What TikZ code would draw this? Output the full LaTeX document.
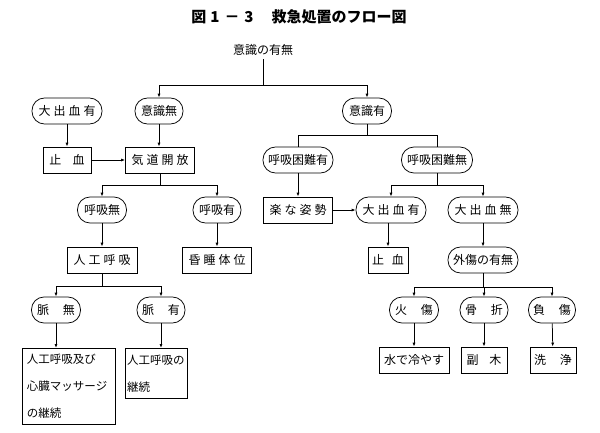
\documentclass[tikz,border=0pt]{standalone}
\usepackage{fontspec}
\usepackage{tikz}
\usetikzlibrary{arrows.meta}
\newfontfamily\jpfont{Noto Sans CJK JP}
\newcommand{\ksp}{\hspace{3pt}}
\newcommand{\wsp}[1][14pt]{\hspace{#1}}

\begin{document}
\begin{tikzpicture}[x=1pt, y=-1pt, line width=0.75pt,
		font=\jpfont\fontsize{12pt}{14pt}\selectfont,
		cond/.style={draw, rounded corners=12.5pt, minimum height=26pt, inner sep=1pt},
		act/.style={draw, minimum height=26pt, inner sep=1pt},
		arr/.style={-{Latex[length=4pt,width=3pt]}}]
		\useasboundingbox (0,0) rectangle (600,432);
		% Title
		\node (title) at (299,17) {\bfseries\fontsize{15pt}{17pt}\selectfont 図\hspace{4pt}1\hspace{5pt}－\hspace{5pt}3\hspace{18pt}救急処置のフロー図};
		% Nodes, row by row
		\node (query) at (263,50) {意識の有無};
		\node[cond, minimum width=70pt] (bleedA) at (67,111) {大\ksp 出\ksp 血\ksp 有};
		\node[cond, minimum width=48pt] (unconsc) at (159,111) {意識無};
		\node[cond, minimum width=49pt] (consc) at (367,111) {意識有};
		\node[act, minimum width=48pt] (stopA) at (67,160) {止\wsp[11.5pt]血};
		\node[act, minimum width=69pt] (airway) at (160,160) {気\ksp 道\ksp 開\ksp 放};
		\node[cond, minimum width=70pt] (dyspY) at (298,160) {呼吸困難有};
		\node[cond, minimum width=71pt] (dyspN) at (437,160) {呼吸困難無};
		\node[cond, minimum width=49pt] (breathN) at (102,210) {呼吸無};
		\node[cond, minimum width=48pt] (breathY) at (217,210) {呼吸有};
		\node[act, minimum width=69pt] (comfort) at (298,210) {楽\ksp な\ksp 姿\ksp 勢};
		\node[cond, minimum width=70pt] (bleedB) at (391,210) {大\ksp 出\ksp 血\ksp 有};
		\node[cond, minimum width=70pt] (nobleed) at (483,210) {大\ksp 出\ksp 血\ksp 無};
		\node[act, minimum width=70pt] (cpr) at (102,260) {人\ksp 工\ksp 呼\ksp 吸};
		\node[act, minimum width=69pt] (coma) at (217,260) {昏\ksp 睡\ksp 体\ksp 位};
		\node[act, minimum width=40pt] (stopB) at (388,260) {止\wsp[8pt]血};
		\node[cond, minimum width=70pt] (injury) at (483,260) {外傷の有無};
		\node[cond, minimum width=49pt] (pulseN) at (56,310) {脈\wsp 無};
		\node[cond, minimum width=48pt] (pulseY) at (161,310) {脈\wsp 有};
		\node[cond, minimum width=49pt] (burn) at (414,310) {火\wsp 傷};
		\node[cond, minimum width=48pt] (fract) at (484,310) {骨\wsp 折};
		\node[cond, minimum width=47pt] (wound) at (552,310) {負\wsp 傷};
		\node[act, minimum width=70pt] (cool) at (414,360) {水で冷やす};
		\node[act, minimum width=46pt] (splint) at (484,360) {副\wsp[11pt]木};
		\node[act, minimum width=46pt] (wash) at (553,360) {洗\wsp 浄};
		\node[act, anchor=north, minimum width=93pt, minimum height=76pt, inner xsep=5pt, text width=83pt, align=left,
			font=\jpfont\fontsize{11.5pt}{27pt}\selectfont] (cprbox) at (68.5,348) {人工呼吸及び\\心臓マッサージ\\の継続};
		\node[act, anchor=north, minimum width=62pt, minimum height=50pt, inner xsep=2pt, text width=58pt, align=left,
			font=\jpfont\fontsize{11.5pt}{27pt}\selectfont] (keepbox) at (156,348) {人工呼吸の\\継続};
		% Connectors
		\coordinate (j0) at (263,85);
		\draw (query) -- (j0);
		\draw[arr] (j0) -| (unconsc.north);
		\draw[arr] (j0) -| (consc.north);
		\draw[arr] (bleedA) -- (stopA);
		\draw[arr] (unconsc.south) -- (unconsc.south |- airway.north);
		\draw[arr] (stopA) -- (airway);
		\coordinate (j1) at (367,135);
		\draw (consc) -- (j1);
		\draw (j1) -| (dyspY.north);
		\draw (j1) -| (dyspN.north);
		\coordinate (j2) at (160,185);
		\draw (airway) -- (j2);
		\draw[arr] (j2) -| (breathN.north);
		\draw[arr] (j2) -| (breathY.north);
		\draw[arr] (dyspY) -- (comfort);
		\draw[arr] (comfort) -- (bleedB);
		\coordinate (j3) at (437,185);
		\draw (dyspN) -- (j3);
		\draw[arr] (j3) -| (bleedB.north);
		\draw[arr] (j3) -| (nobleed.north);
		\draw[arr] (breathN) -- (cpr);
		\draw[arr] (breathY) -- (coma);
		\draw[arr] (bleedB.south -| stopB.north) -- (stopB.north);
		\draw[arr] (nobleed) -- (injury);
		\coordinate (j4) at (102,286);
		\draw (cpr) -- (j4);
		\draw[arr] (j4) -| (pulseN.north);
		\draw[arr] (j4) -| (pulseY.north);
		\coordinate (j5) at (483,287);
		\draw (injury) -- (j5);
		\draw[arr] (j5) -| (burn.north);
		\draw[arr] (j5) -| (fract.north);
		\draw[arr] (j5) -| (wound.north);
		\draw[arr] (pulseN.south) -- (pulseN.south |- cprbox.north);
		\draw[arr] (pulseY.south) -- (pulseY.south |- keepbox.north);
		\draw[arr] (burn) -- (cool);
		\draw[arr] (fract) -- (splint);
		\draw[arr] (wound) -- (wash);
	\end{tikzpicture}
\end{document}
